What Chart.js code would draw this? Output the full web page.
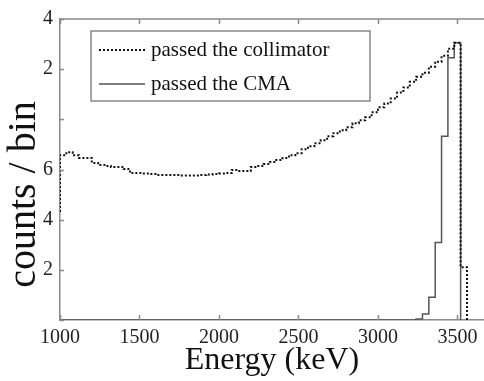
<!DOCTYPE html>
<html>
<head>
<meta charset="utf-8">
<script src="https://cdn.jsdelivr.net/npm/chart.js@4.4.0/dist/chart.umd.min.js"></script>
<style>
    html, body { margin: 0; padding: 0; background: #fff; }
</style>
</head>
<body>
<canvas id="chart" width="484" height="381"></canvas>
<script>
// --- Data (bin left edges in keV, counts per bin) ---
const energies = [960, 1000, 1040, 1080, 1120, 1160, 1200, 1240, 1280, 1320, 1360, 1400, 1440, 1480, 1520, 1560,
    1600, 1640, 1680, 1720, 1760, 1800, 1840, 1880, 1920, 1960, 2000, 2040, 2080, 2120, 2160, 2200, 2240, 2280,
    2320, 2360, 2400, 2440, 2480, 2520, 2560, 2600, 2640, 2680, 2720, 2760, 2800, 2840, 2880, 2920, 2960, 3000,
    3040, 3080, 3120, 3160, 3200, 3240, 3280, 3320, 3360, 3400, 3440, 3480, 3520, 3560];

const collimatorCounts = [4.24, 6.57, 6.69, 6.57, 6.46, 6.46, 6.26, 6.18, 6.14, 6.10, 6.10, 6.02, 5.86, 5.86, 5.84, 5.82,
    5.78, 5.78, 5.78, 5.78, 5.76, 5.76, 5.76, 5.78, 5.80, 5.82, 5.84, 5.86, 5.98, 5.94, 5.94, 6.10, 6.14, 6.22,
    6.30, 6.38, 6.46, 6.57, 6.65, 6.81, 6.93, 7.05, 7.17, 7.33, 7.45, 7.56, 7.68, 7.84, 7.96, 8.08, 8.28, 8.48,
    8.63, 8.83, 9.07, 9.27, 9.50, 9.70, 9.86, 10.10, 10.30, 10.53, 10.81, 11.05, 2.10, 0];

const cmaCounts = [null, 0, 0, 0, 0, 0, 0, 0, 0, 0, 0, 0, 0, 0, 0, 0,
    0, 0, 0, 0, 0, 0, 0, 0, 0, 0, 0, 0, 0, 0, 0, 0, 0, 0,
    0, 0, 0, 0, 0, 0, 0, 0, 0, 0, 0, 0, 0, 0, 0, 0, 0, 0,
    0, 0, 0, 0, 0, 0.04, 0.24, 0.91, 3.09, 7.33, 10.46, 11.05, 0, null];

const seriesNames = ['passed the collimator', 'passed the CMA'];

const xTickValues = [1000, 1500, 2000, 2500, 3000, 3500];
const xTickLabels = ['1000', '1500', '2000', '2500', '3000', '3500'];
const yTickValues = [0, 2, 4, 6, 8, 10, 12];
const yTickLabels = ['', '2', '4', '6', '', '2', '4'];
const yTitle = 'counts / bin';

const SERIF = "'Liberation Serif', 'Times New Roman', serif";
const AXIS_COLOR = '#8a8a8a';

function toPoints(values) {
    return energies.map((e, i) => ({ x: e, y: values[i] }));
}

// --- Plugins: inward tick marks, top frame, y title, boxed legend ---
const framePlugin = {
    id: 'frame',
    afterDraw(chart) {
        const { ctx, chartArea: a, scales: { x, y } } = chart;
        ctx.save();
        ctx.strokeStyle = AXIS_COLOR;
        ctx.lineWidth = 1.5;
        ctx.beginPath();
        ctx.moveTo(a.left, a.top);
        ctx.lineTo(a.right, a.top);
        xTickValues.forEach(v => {
            const px = Math.round(x.getPixelForValue(v)) + 0.5;
            ctx.moveTo(px, a.bottom);
            ctx.lineTo(px, a.bottom - 5);
            ctx.moveTo(px, a.top);
            ctx.lineTo(px, a.top + 5);
        });
        yTickValues.forEach(v => {
            const py = Math.round(y.getPixelForValue(v)) + 0.5;
            ctx.moveTo(a.left, py);
            ctx.lineTo(a.left + 4, py);
        });
        ctx.stroke();

        // y axis title, sits a bit below the middle of the axis
        ctx.translate(24, (a.top + a.bottom) / 2 + 25);
        ctx.rotate(-Math.PI / 2);
        ctx.font = '40px ' + SERIF;
        ctx.fillStyle = '#111';
        ctx.textAlign = 'center';
        ctx.textBaseline = 'middle';
        ctx.fillText(yTitle, 0, 0);
        ctx.restore();
    }
};

const boxLegendPlugin = {
    id: 'boxLegend',
    afterDraw(chart) {
        const { ctx, chartArea: a } = chart;
        const left = a.left + 31, top = a.top + 12, w = 279, h = 70;
        ctx.save();
        ctx.fillStyle = '#fff';
        ctx.fillRect(left, top, w, h);
        ctx.strokeStyle = '#888';
        ctx.lineWidth = 1.5;
        ctx.strokeRect(left, top, w, h);

        ctx.font = '21px ' + SERIF;
        ctx.textBaseline = 'middle';
        ctx.fillStyle = '#111';
        chart.data.datasets.forEach((ds, i) => {
            const rowY = top + 19 + i * 34;
            ctx.beginPath();
            ctx.strokeStyle = ds.borderColor;
            ctx.lineWidth = ds.borderWidth;
            ctx.setLineDash(ds.borderDash || []);
            ctx.moveTo(left + 8, rowY);
            ctx.lineTo(left + 54, rowY);
            ctx.stroke();
            ctx.setLineDash([]);
            ctx.fillText(ds.label, left + 60, rowY);
        });
        ctx.restore();
    }
};

// --- Chart ---
new Chart(document.getElementById('chart'), {
    type: 'line',
    data: {
        datasets: [
            {
                label: seriesNames[0],
                data: toPoints(collimatorCounts),
                borderColor: '#111',
                borderWidth: 2,
                borderDash: [2, 2],
                stepped: 'before',
                pointRadius: 0,
                order: 0
            },
            {
                label: seriesNames[1],
                data: toPoints(cmaCounts),
                borderColor: '#555',
                borderWidth: 1.5,
                stepped: 'before',
                pointRadius: 0,
                spanGaps: false,
                order: 1
            }
        ]
    },
    options: {
        responsive: false,
        animation: false,
        devicePixelRatio: 1,
        layout: { padding: { top: 16, right: 0, left: 0, bottom: 0 } },
        plugins: {
            legend: { display: false },
            tooltip: { enabled: false }
        },
        scales: {
            x: {
                type: 'linear',
                min: 1000,
                max: 3667,
                afterBuildTicks: s => { s.ticks = xTickValues.map(v => ({ value: v })); },
                afterFit: s => { s.height = 61; },
                grid: { display: false, drawTicks: false },
                border: { display: true, color: AXIS_COLOR, width: 1.5 },
                ticks: {
                    autoSkip: false,
                    maxRotation: 0,
                    padding: 6,
                    color: '#222',
                    font: { family: SERIF, size: 20 },
                    callback: (v, i) => xTickLabels[i]
                },
                title: {
                    display: true,
                    text: 'Energy (keV)',
                    color: '#111',
                    font: { family: SERIF, size: 32 },
                    padding: { top: 0, bottom: 1 }
                }
            },
            y: {
                min: 0,
                max: 12,
                afterBuildTicks: s => { s.ticks = yTickValues.map(v => ({ value: v })); },
                afterFit: s => { s.width = 60; },
                grid: { display: false, drawTicks: false },
                border: { display: true, color: AXIS_COLOR, width: 1.5 },
                ticks: {
                    autoSkip: false,
                    padding: 7,
                    color: '#222',
                    font: { family: SERIF, size: 20 },
                    callback: (v, i) => yTickLabels[i]
                }
            }
        }
    },
    plugins: [framePlugin, boxLegendPlugin]
});
</script>
</body>
</html>
